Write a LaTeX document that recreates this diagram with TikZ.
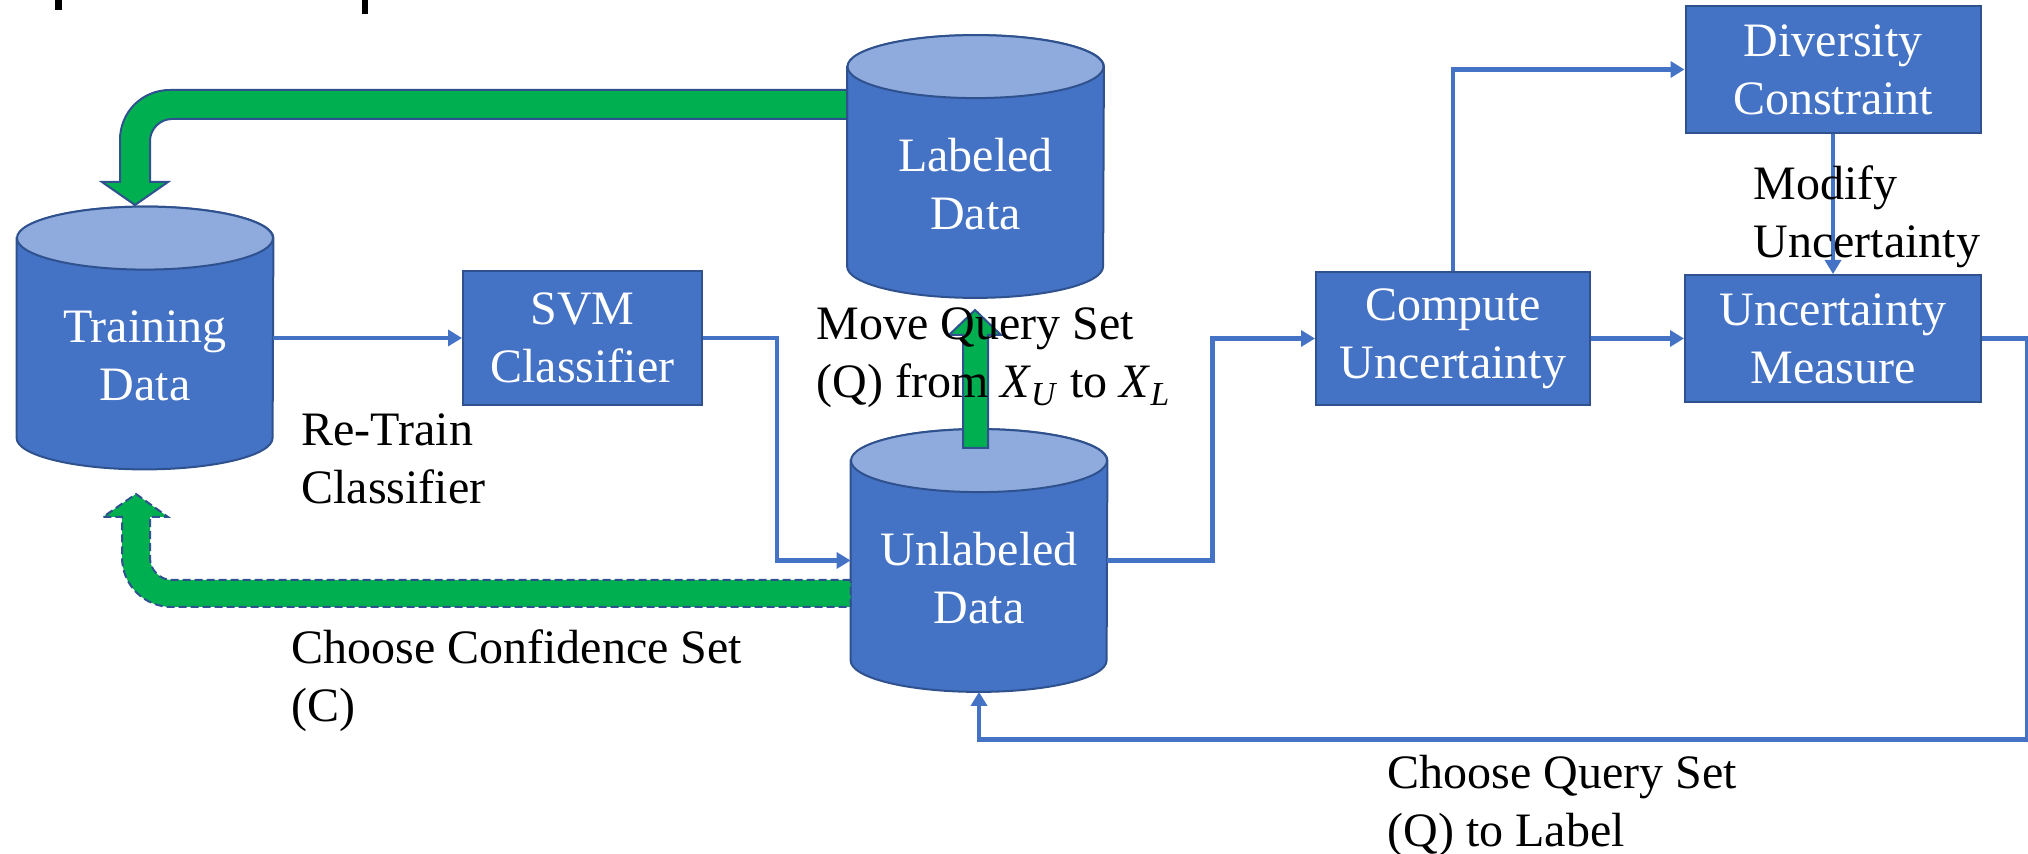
\documentclass[tikz,border=0pt]{standalone}
\usepackage{fontspec}
\setmainfont{Liberation Serif}
\usetikzlibrary{arrows.meta,positioning}

\definecolor{boxblue}{HTML}{4472C4}
\definecolor{capblue}{HTML}{8FAADC}
\definecolor{edgeblue}{HTML}{2F528F}
\definecolor{movegreen}{HTML}{00B050}

% drum drawn round a (blank) store node
\newcommand\storeshape[1]{%
  \draw[fill=boxblue,draw=edgeblue,line width=1pt]
    ([yshift=-15.75pt]#1.north west) -- ([yshift=15.75pt]#1.south west)
    arc[start angle=180,end angle=360,x radius=64pt,y radius=15.75pt]
    -- ([yshift=-15.75pt]#1.north east)
    arc[start angle=0,end angle=180,x radius=64pt,y radius=15.75pt] -- cycle;
  \draw[fill=capblue,draw=edgeblue,line width=1pt]
    ([yshift=-15.75pt]#1.north) ellipse[x radius=64pt,y radius=15.75pt];}

\begin{document}
\begin{tikzpicture}[x=0.5pt,y=-0.5pt,>={Triangle[length=7pt,width=8pt]},
                    every node/.style={font=\fontsize{24}{29}\selectfont}]
  \tikzset{
    flow/.style={->,line width=2.2pt,draw=boxblue},
    stage/.style={rectangle,draw=edgeblue,line width=1pt,fill=boxblue,
                  text=white,align=center,inner sep=0pt},
    store/.style={rectangle,minimum width=128pt,minimum height=131pt,inner sep=0pt},
    storetext/.style={text=white,align=center,inner sep=0pt},
    note/.style={anchor=base west,align=left,inner sep=0pt},
    fat/.style={fill=movegreen,draw=edgeblue,line width=1pt}
  }
  \useasboundingbox (0,0) rectangle (2028,854);

  % cut-off marks at the top edge
  \fill (55,0) rectangle (62,10);
  \fill (362,0) rectangle (368,14);

  % data stores
  \node[store] (trn) at (145,338) {};
  \storeshape{trn}
  \node[storetext] (trntext) at ([yshift=-9pt]trn.center) {Training\\Data};
  \node[store] (lab) at (975.5,166.5) {};
  \storeshape{lab}
  \node[storetext] (labtext) at ([yshift=-9pt]lab.center) {Labeled\\Data};
  \node[store] (unl) at (979,560.5) {};
  \storeshape{unl}
  \node[storetext] (unltext) at ([yshift=-9pt]unl.center) {Unlabeled\\Data};

  % processing steps
  \node[stage,minimum width=119.5pt,minimum height=67pt] (svm) at (582.5,338) {SVM\\Classifier};
  \node[stage,minimum width=137pt,minimum height=66.5pt] (cmp) at (1453,338.5) {Compute\\Uncertainty};
  \node[stage,minimum width=148pt,minimum height=63.5pt] (um) [right of=cmp,node distance=190pt] {Uncertainty\\Measure};
  \node[stage,minimum width=147.5pt,minimum height=63.5pt] (div) [above of=um,node distance=134.5pt] {Diversity\\Constraint};

  % big green moves
  \draw[fat] (lab.west |- 0,90) -- (170,90) .. controls (142,90) and (120,112) .. (120,140)
    -- (120,182) -- (102,182) -- (135,205) -- (168,182) -- (150,182) -- (150,141)
    .. controls (150,129) and (160,119) .. (172,119) -- (lab.west |- 0,119) -- cycle;
  \draw[fat,dash pattern=on 4pt off 2pt] (unl.west |- 0,580) -- (172,580)
    .. controls (160,580) and (150,570) .. (150,558) -- (150,517) -- (168,517) -- (136,494)
    -- (103,517) -- (122,517) -- (122,557) .. controls (122,585) and (144,607) .. (172,607)
    -- (unl.west |- 0,607) -- cycle;
  \draw[fat] (963,448) -- (963,335) -- (949,335) -- (975,310) -- (1001,335) -- (988,335)
    -- (988,448) -- cycle;

  % flow lines
  \draw[flow] (trn.east) -- (svm.west);
  \draw[flow] (svm.east) -- ++(74,0) |- (unl.west);
  \draw[flow] (unl.east) -- ++(105,0) |- (cmp.west);
  \draw[flow] (cmp.north) |- (div.west);
  \draw[flow] (cmp.east) -- (um.west);
  \draw[flow] (div.south) -- (um.north);
  \draw[flow] (um.east) -- ++(45,0) -- ++(0,401) -| (unl.south);

  % labels (anchored on the last baseline)
  \node[note] (retrain) at (301,504) {Re-Train\\Classifier};
  \node[note] (movelab) at (816,398) {Move Query Set\\(Q) from \textit{X}\textsubscript{\textit{U}} to \textit{X}\textsubscript{\textit{L}}};
  \node[note] (confset) at (291,721) {Choose Confidence Set\\(C)};
  \node[note] (queryset) at (1387,846) {Choose Query Set\\(Q) to Label};
  \node[note] (modify) at (1753,258) {Modify\\Uncertainty};
\end{tikzpicture}
\end{document}
